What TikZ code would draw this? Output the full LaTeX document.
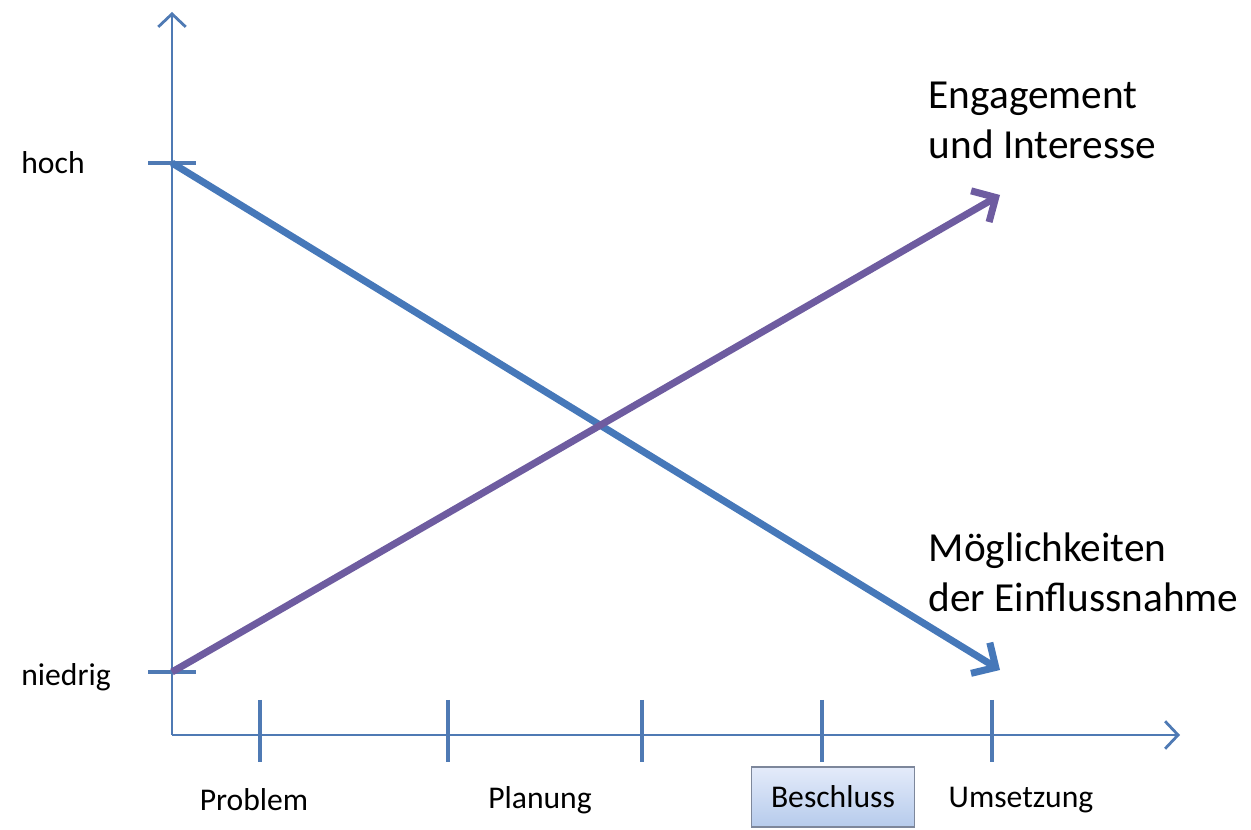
\documentclass[tikz,border=0pt]{standalone}
\usepackage{fontspec}
\setmainfont{Carlito}
\usepackage{tikz}
\usetikzlibrary{arrows.meta, calc}
\usepackage{xcolor}

\definecolor{axisblue}{RGB}{79,122,180}
\definecolor{lineblue}{RGB}{70,120,185}
\definecolor{linepurple}{RGB}{110,92,160}
\definecolor{boxtop}{RGB}{228,235,250}
\definecolor{boxbottom}{RGB}{182,203,236}
\definecolor{boxedge}{RGB}{125,135,155}

\tikzset{
    axis/.style={draw=axisblue, line width=1.1pt, -{Straight Barb[length=2.6mm, width=5.5mm, line width=1.6pt]}},
    tick/.style={draw=axisblue, line width=2.2pt},
    trend/.style={line width=4pt, -{Straight Barb[length=3.6mm, width=7.2mm, line width=4pt]}},
    smalllabel/.style={font=\fontsize{18}{21}\selectfont},
    biglabel/.style={font=\fontsize{23.5}{28.5}\selectfont, align=left, anchor=west}
}

\begin{document}
\begin{tikzpicture}
                \useasboundingbox (0,0) rectangle (25.02,16.6);

                \coordinate (O) at (3.44, 1.9);

                % axes
                \draw[axis] (O) -- (3.44, 16.36) coordinate (ytop);
                \draw[axis] (O) -- (23.6, 1.9) coordinate (xend);

                % level marks
                \coordinate (high) at (3.44, 13.34);
                \coordinate (low) at (3.44, 3.16);
                \draw[tick] ($ (high) + (-0.48, 0) $) -- ++(0.95, 0);
                \draw[tick] ($ (low) + (-0.48, 0) $) -- ++(0.95, 0);
                \node[smalllabel] (hoch) at (1.06, 13.34) {hoch};
                \node[smalllabel] (niedrig) at (1.32, 3.05) {niedrig};

                % phase marks
                \foreach \x in {5.2, 8.96, 12.84, 16.44, 19.84}
                    \draw[tick] (\x, 2.6) -- (\x, 1.36);

                \node[smalllabel] (problem) at (5.08, 0.6) {Problem};
                \node[smalllabel] (planung) at (10.8, 0.6) {Planung};
                \node[smalllabel, draw=boxedge, line width=0.8pt, top color=boxtop, bottom color=boxbottom, minimum width=3.26cm, minimum height=1.2cm] (beschluss) at (16.66, 0.66) {Beschluss};
                \node[smalllabel] (umsetzung) at (20.42, 0.6) {Umsetzung};

                % trends
                \draw[trend, draw=lineblue] (high) -- (20, 3.2) coordinate (blueend);
                \draw[trend, draw=linepurple] (low) -- (20, 12.7) coordinate (purpleend);

                \node[biglabel] (engagement) at (18.45, 14.2) {Engagement\\und Interesse};
                \node[biglabel] (einfluss) at (18.45, 5.15) {Möglichkeiten\\der Einflussnahme};

            \end{tikzpicture}
\end{document}
